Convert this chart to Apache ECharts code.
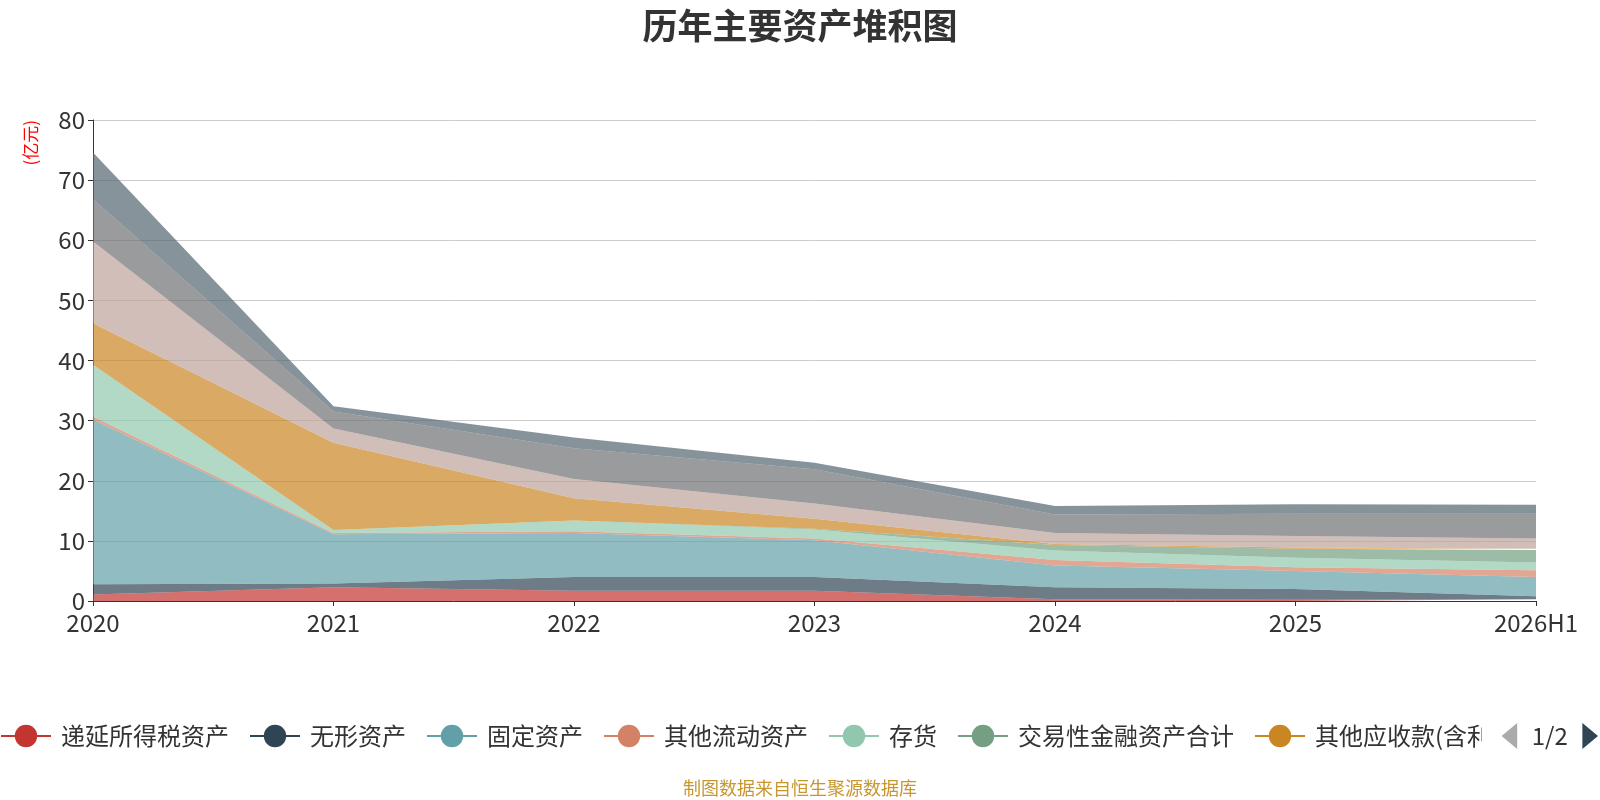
<!DOCTYPE html>
<html>
<head>
<meta charset="utf-8">
<title>历年主要资产堆积图</title>
<script src="https://cdn.jsdelivr.net/npm/echarts@6/dist/echarts.min.js"></script>
<style>
    html, body { margin: 0; padding: 0; background: #fff; }
    #main { width: 1600px; height: 800px; }
</style>
</head>
<body>
<div id="main"></div>
<script>
// 年份
const years = ['2020', '2021', '2022', '2023', '2024', '2025', '2026H1'];

// 各项资产(亿元)，自下而上堆叠
const deferredTax = [1.1, 2.3, 1.7, 1.7, 0.3, 0.2, 0.3];      // 递延所得税资产
const intangible = [1.7, 0.6, 2.3, 2.3, 2.0, 1.8, 0.5];       // 无形资产
const fixedAssets = [27.4, 8.2, 7.3, 6.1, 3.6, 3.0, 3.2];     // 固定资产
const otherCurrent = [0.5, 0.2, 0.3, 0.3, 0.9, 0.6, 1.1];     // 其他流动资产
const inventory = [8.6, 0.5, 1.8, 1.5, 1.6, 1.6, 1.3];        // 存货
const tradingFin = [0, 0, 0, 0.1, 0.9, 1.5, 2.1];             // 交易性金融资产合计
const otherRecv = [6.9, 14.5, 3.7, 1.7, 0.2, 0.2, 0.2];       // 其他应收款(含利息和股利)
const receivables = [13.6, 2.4, 3.2, 2.5, 1.8, 1.9, 1.7];     // 应收账款
const prepayments = [7.0, 2.8, 5.1, 5.7, 3.1, 3.7, 4.1];      // 预付款项
const cash = [7.8, 0.9, 1.8, 1.1, 1.4, 1.6, 1.5];             // 货币资金

const seriesNames = ['递延所得税资产', '无形资产', '固定资产', '其他流动资产', '存货',
    '交易性金融资产合计', '其他应收款(含利息和股利)', '应收账款', '预付款项', '货币资金'];
const seriesData = [deferredTax, intangible, fixedAssets, otherCurrent, inventory,
    tradingFin, otherRecv, receivables, prepayments, cash];

const colors = ['#c23531', '#2f4554', '#61a0a8', '#d48265', '#91c7ae',
    '#749f83', '#ca8622', '#bda29a', '#6e7074', '#546570'];

const chart = echarts.init(document.getElementById('main'));

chart.setOption({
    color: colors,
    textStyle: { fontFamily: 'Noto Sans CJK SC' },
    title: {
        text: '历年主要资产堆积图',
        left: 'center',
        top: 3,
        textStyle: { fontSize: 35, fontWeight: 'bold', color: '#333', fontFamily: 'Noto Sans CJK SC' }
    },
    legend: {
        type: 'scroll',
        top: 718,
        left: 0,
        right: 0,
        padding: [5, 2, 5, 0],
        itemWidth: 50,
        itemHeight: 28,
        itemGap: 20,
        textStyle: { fontSize: 24, color: '#333', padding: [0, 0, 0, 5] },
        lineStyle: { width: 2, opacity: 1 },
        itemStyle: { opacity: 1 },
        pageIconColor: '#2f4554',
        pageIconInactiveColor: '#aaa',
        pageIconSize: [18, 26],
        pageButtonItemGap: 4,
        pageButtonGap: 20,
        pageTextStyle: { fontSize: 24, color: '#333' },
        data: seriesNames
    },
    grid: {
        left: 93,
        right: 64,
        top: 120,
        bottom: 199
    },
    xAxis: {
        type: 'category',
        boundaryGap: false,
        data: years,
        axisLine: { lineStyle: { color: '#333' } },
        axisTick: { lineStyle: { color: '#333' } },
        axisLabel: { fontSize: 24, color: '#333', margin: 10 }
    },
    yAxis: {
        type: 'value',
        min: 0,
        max: 80,
        interval: 10,
        axisLine: { show: true, lineStyle: { color: '#333' } },
        axisTick: { show: true, lineStyle: { color: '#333' } },
        axisLabel: { fontSize: 24, color: '#333' },
        splitLine: { lineStyle: { color: '#ccc' } }
    },
    graphic: [
        {
            type: 'text',
            left: 22,
            top: 120,
            rotation: Math.PI / 2,
            style: { text: '(亿元)', fill: '#ff0000', fontSize: 17, fontFamily: 'Noto Sans CJK SC' }
        },
        {
            type: 'text',
            left: 'center',
            top: 779,
            style: { text: '制图数据来自恒生聚源数据库', fill: '#c8962e', fontSize: 18, fontFamily: 'Noto Sans CJK SC' }
        }
    ],
    series: seriesNames.map(function (name, i) {
        return {
            name: name,
            type: 'line',
            stack: 'total',
            data: seriesData[i],
            symbol: 'circle',
            showSymbol: false,
            lineStyle: { width: 0 },
            areaStyle: { opacity: 0.7 }
        };
    })
});
</script>
</body>
</html>
